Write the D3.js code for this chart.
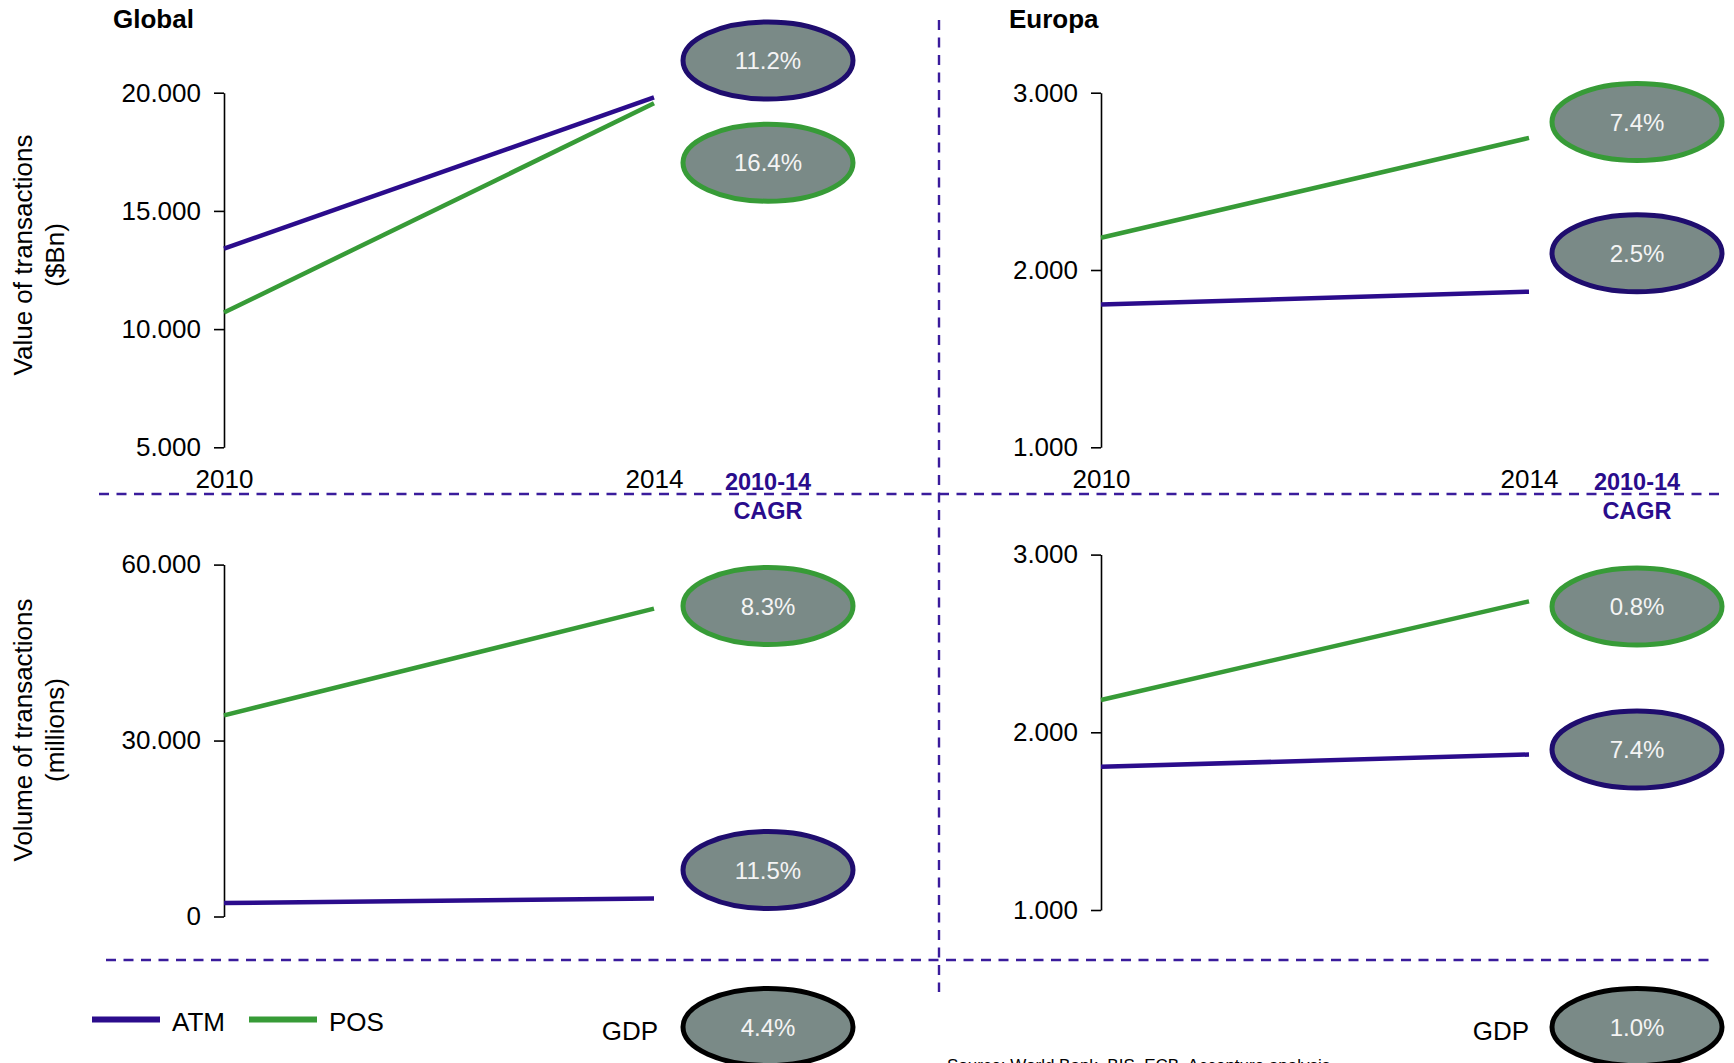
<!DOCTYPE html>
<html>
<head>
<meta charset="utf-8">
<script src="https://cdn.jsdelivr.net/npm/d3@7"></script>
<style>
  html, body { margin: 0; padding: 0; background: #ffffff; }
  svg { display: block; font-family: "Liberation Sans", Arial, sans-serif; }
</style>
</head>
<body>
<svg id="chart" width="1734" height="1063"></svg>
<script>
// ---- data ----
const years = [2010, 2014];
const seriesNames = ["ATM", "POS"];

// value of transactions ($Bn)
const globalValueATM = [13400, 19800];
const globalValuePOS = [10700, 19550];
const europeValueATM = [1805, 1878];
const europeValuePOS = [2182, 2745];

// volume of transactions (millions)
const globalVolumeATM = [2300, 3050];
const globalVolumePOS = [34300, 52500];
const europeVolumeATM = [1806, 1875];
const europeVolumePOS = [2182, 2737];

// 2010-14 CAGR, ordered ATM, POS
const globalValueCAGR = ["11.2%", "16.4%"];
const europeValueCAGR = ["2.5%", "7.4%"];
const globalVolumeCAGR = ["11.5%", "8.3%"];
const europeVolumeCAGR = ["7.4%", "0.8%"];
const gdpCAGR = ["4.4%", "1.0%"]; // Global, Europa

// tick labels
const globalValueTicks = [5000, 10000, 15000, 20000];
const europeValueTicks = [1000, 2000, 3000];
const globalVolumeTicks = [0, 30000, 60000];
const europeVolumeTicks = [1000, 2000, 3000];

const regionTitles = ["Global", "Europa"];
const axisTitles = [["Value of transactions", "($Bn)"], ["Volume of transactions", "(millions)"]];
const sourceText = "Source: World Bank, BIS, ECB, Accenture analysis";

// ---- styles ----
const color = {
  ATM: "#2b0c8c",
  POS: "#379b37",
  ATMring: "#1f0d6e",
  POSring: "#379b37",
  GDPring: "#000000",
  badgeFill: "#7a8a87",
  divider: "#3a1c9c",
  cagr: "#2a0c8c"
};
const FONT = 26;

const locale = d3.formatLocale({ decimal: ",", thousands: ".", grouping: [3], currency: ["$", ""] });
const fmt = locale.format(",");

const svg = d3.select("#chart");

// ---- panel layout ----
const panels = [
  { atm: globalValueATM, pos: globalValuePOS, domain: [5000, 20000], ticks: globalValueTicks,
    x: [224, 654], y: [447.3, 92.7], cagr: globalValueCAGR, badgeX: 768, badgeY: { ATM: 60.5, POS: 162.7 }, yearLabels: true },
  { atm: europeValueATM, pos: europeValuePOS, domain: [1000, 3000], ticks: europeValueTicks,
    x: [1101, 1529], y: [447.3, 92.7], cagr: europeValueCAGR, badgeX: 1637, badgeY: { ATM: 253.3, POS: 122 }, yearLabels: true },
  { atm: globalVolumeATM, pos: globalVolumePOS, domain: [0, 60000], ticks: globalVolumeTicks,
    x: [224, 654], y: [916.5, 564.6], cagr: globalVolumeCAGR, badgeX: 768, badgeY: { ATM: 870, POS: 606 }, yearLabels: false },
  { atm: europeVolumeATM, pos: europeVolumePOS, domain: [1000, 3000], ticks: europeVolumeTicks,
    x: [1101, 1529], y: [910, 554.6], cagr: europeVolumeCAGR, badgeX: 1637, badgeY: { ATM: 749.6, POS: 606.6 }, yearLabels: false }
];

const RX = 85, RY = 38.5;

function badge(cx, cy, ring, label) {
  const g = svg.append("g").attr("transform", `translate(${cx},${cy})`);
  g.append("ellipse")
    .attr("rx", RX).attr("ry", RY)
    .attr("fill", color.badgeFill)
    .attr("stroke", ring).attr("stroke-width", 5);
  g.append("text")
    .attr("text-anchor", "middle")
    .attr("dy", "0.36em")
    .attr("fill", "#f4f4f4")
    .attr("font-size", 24)
    .text(label);
}

panels.forEach(p => {
  const x = d3.scaleLinear().domain(d3.extent(years)).range(p.x);
  const y = d3.scaleLinear().domain(p.domain).range(p.y);

  // y axis
  const ay = svg.append("g")
    .attr("transform", `translate(${p.x[0]},0)`)
    .call(d3.axisLeft(y).tickValues(p.ticks).tickFormat(fmt).tickSize(10).tickSizeOuter(0).tickPadding(13));
  ay.select(".domain").attr("stroke", "#000").attr("stroke-width", 1.6);
  ay.selectAll(".tick line").attr("stroke", "#000").attr("stroke-width", 1.6);
  ay.selectAll(".tick text").attr("font-size", FONT).attr("fill", "#000").attr("font-family", "Liberation Sans, Arial, sans-serif");

  // year labels under the top panels
  if (p.yearLabels) {
    const ax = svg.append("g")
      .attr("transform", `translate(0,${470})`)
      .call(d3.axisBottom(x).tickValues(years).tickFormat(d3.format("d")).tickSize(0).tickPadding(0));
    ax.select(".domain").remove();
    ax.selectAll(".tick text").attr("font-size", FONT).attr("fill", "#000").attr("font-family", "Liberation Sans, Arial, sans-serif");
  }

  // series lines
  const line = d3.line().x((d, i) => x(years[i])).y(d => y(d));
  [["ATM", p.atm], ["POS", p.pos]].forEach(([name, vals]) => {
    svg.append("path")
      .datum(vals)
      .attr("d", line)
      .attr("fill", "none")
      .attr("stroke", color[name])
      .attr("stroke-width", 4.5);
  });

  // CAGR badges
  badge(p.badgeX, p.badgeY.ATM, color.ATMring, p.cagr[0]);
  badge(p.badgeX, p.badgeY.POS, color.POSring, p.cagr[1]);
});

// region titles
[113, 1009].forEach((tx, i) => {
  svg.append("text")
    .attr("x", tx).attr("y", 28)
    .attr("font-size", FONT).attr("font-weight", "bold")
    .text(regionTitles[i]);
});

// "2010-14 CAGR" headers
[768, 1637].forEach(cx => {
  const t = svg.append("text")
    .attr("text-anchor", "middle")
    .attr("font-size", 23.5).attr("font-weight", "bold")
    .attr("fill", color.cagr);
  t.append("tspan").attr("x", cx).attr("y", 490).text("2010-14");
  t.append("tspan").attr("x", cx).attr("y", 519).text("CAGR");
});

// rotated axis titles
[[255, axisTitles[0]], [730, axisTitles[1]]].forEach(([cy, lines]) => {
  const t = svg.append("text")
    .attr("transform", `translate(40,${cy}) rotate(-90)`)
    .attr("text-anchor", "middle")
    .attr("font-size", FONT);
  t.append("tspan").attr("x", 0).attr("y", -8).text(lines[0]);
  t.append("tspan").attr("x", 0).attr("y", 24).text(lines[1]);
});

// dashed dividers
const dash = "10,7.5";
[[99, 494, 1723, 494], [106, 960, 1713, 960], [939, 20, 939, 992]].forEach(([x1, y1, x2, y2]) => {
  svg.append("line")
    .attr("x1", x1).attr("y1", y1).attr("x2", x2).attr("y2", y2)
    .attr("stroke", color.divider)
    .attr("stroke-width", 2.4)
    .attr("stroke-dasharray", dash);
});

// legend
const legend = svg.append("g");
[[92, 172], [249, 329]].forEach(([lx, tx], i) => {
  const name = seriesNames[i];
  legend.append("line")
    .attr("x1", lx).attr("x2", lx + 68)
    .attr("y1", 1019.5).attr("y2", 1019.5)
    .attr("stroke", color[name]).attr("stroke-width", 6);
  legend.append("text")
    .attr("x", tx).attr("y", 1031)
    .attr("font-size", FONT)
    .text(name);
});

// GDP badges
[[658, 768], [1529, 1637]].forEach(([lx, cx], i) => {
  svg.append("text")
    .attr("x", lx).attr("y", 1040)
    .attr("text-anchor", "end")
    .attr("font-size", FONT)
    .text("GDP");
  badge(cx, 1027, color.GDPring, gdpCAGR[i]);
});

// source note along the bottom edge
svg.append("text")
  .attr("x", 947).attr("y", 1071)
  .attr("font-size", 17)
  .text(sourceText);
</script>
</body>
</html>
